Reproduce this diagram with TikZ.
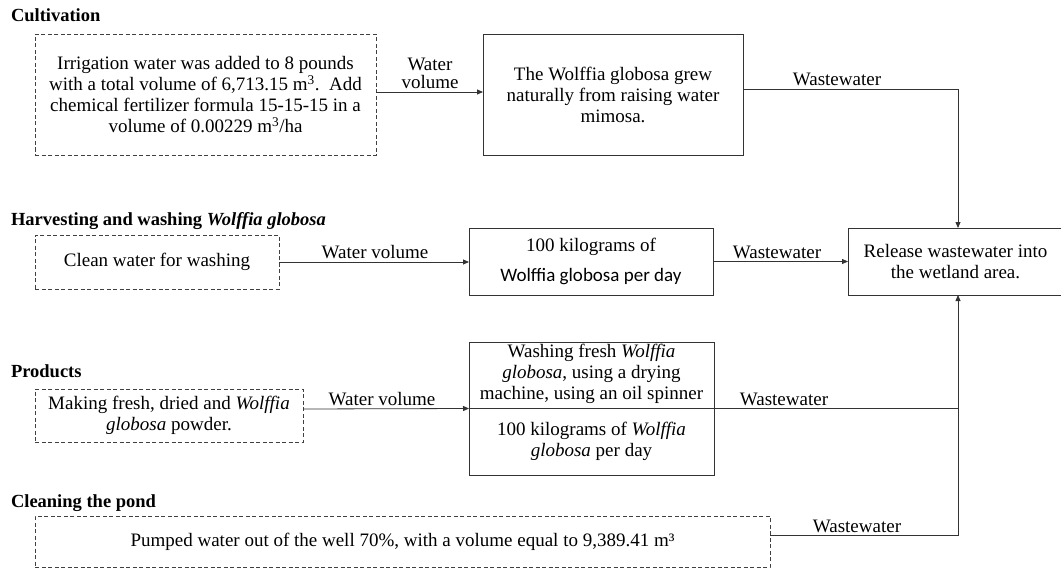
\documentclass[tikz,border=0pt]{standalone}
\usepackage{fontspec}
\setmainfont{Liberation Serif}
\newfontfamily\carlito{Carlito}
\usetikzlibrary{arrows.meta}
\begin{document}
\begin{tikzpicture}[x=1pt,y=-1pt,
  every node/.style={font=\fontsize{19}{21}\selectfont, inner sep=0pt, outer sep=0pt, text=black},
  dbox/.style={draw=black!75, line width=0.8pt, dash pattern=on 4pt off 2.5pt, align=center},
  sbox/.style={draw=black!80, line width=0.8pt, align=center},
  txt/.style={align=center},
  head/.style={anchor=base west, font=\fontsize{18.5}{21}\selectfont\bfseries},
  lbl/.style={anchor=base},
  conn/.style={draw=black!80, line width=0.8pt},
  arr/.style={conn, -{Triangle[length=6pt,width=5pt]}},
]
\useasboundingbox (0,0) rectangle (1061,570);

% headings
\node[head] (h1) at (11,21) {Cultivation};
\node[head] (h2) at (11,225) {Harvesting and washing \textit{Wolffia globosa}};
\node[head] (h3) at (11,377) {Products};
\node[head] (h4) at (11,507) {Cleaning the pond};

% boxes
\node[dbox, minimum width=341pt, minimum height=121pt] (d1) at (205.5,94.5)
  {Irrigation water was added to 8 pounds\\ with a total volume of 6,713.15 m\textsuperscript{3}.\ \ Add\\ chemical fertilizer formula 15-15-15 in a\\ volume of 0.00229 m\textsuperscript{3}/ha};
\node[sbox, minimum width=260pt, minimum height=121pt] (b2) at (613,94.5)
  {The Wolffia globosa grew\\ naturally from raising water\\ mimosa.};
\node[dbox, minimum width=244pt, minimum height=54pt] (d2) at (157,262)
  {Clean water for washing};
\node[sbox, minimum width=244pt, minimum height=67pt] (b3) at (591,261.5)
  {100 kilograms of\\[9pt]{\carlito Wolffia globosa per day}};
\node[sbox, minimum width=215pt, minimum height=67pt] (rel) at (955.5,261.5)
  {Release wastewater into\\ the wetland area.};
\node[dbox, minimum width=268pt, minimum height=53pt] (d3) at (169,415.5)
  {Making fresh, dried and \textit{Wolffia}\\ \textit{globosa} powder.};
\node[sbox, minimum width=245pt, minimum height=133pt] (b4) at (591.5,408.5) {};
\node[txt] (b4t) at (591.5,374) {Washing fresh \textit{Wolffia}\\ \textit{globosa}, using a drying\\ machine, using an oil spinner};
\node[txt] (b4b) at (591.5,441.5) {100 kilograms of \textit{Wolffia}\\ \textit{globosa} per day};
\node[dbox, minimum width=735pt, minimum height=51pt] (d4) at (402.5,541.5)
  {Pumped water out of the well 70\%, with a volume equal to 9,389.41 m³};

% connector corners
\coordinate (c1) at (958,89);
\coordinate (c4) at (958,535);

% connectors
\draw[arr] ([yshift=2.5pt]d1.east) -- ([yshift=2.5pt]d1.east -| b2.west);
\draw[arr] ([yshift=5.5pt]b2.east) -- (c1) -- (c1 |- rel.north);
\draw[arr] (d2.east) -- (d2.east -| b3.west);
\draw[arr] (b3.east) -- (b3.east -| rel.west);
\draw[arr] ([yshift=6.5pt]d3.east) -- (b4.west);
\draw[conn] (b4.west) -- (b4.west -| c1);
\draw[arr] ([yshift=6.5pt]d4.east) -- (c4) -- (c4 |- rel.south);

% labels
\node[lbl] (l1a) at (430,70) {Water};
\node[lbl] (l1b) at (430,88) {volume};
\node[lbl] (l2) at (837,85) {Wastewater};
\node[lbl] (l3) at (375,258) {Water volume};
\node[lbl] (l4) at (777,258) {Wastewater};
\node[lbl] (l5) at (382,405) {Water volume};
\node[lbl] (l6) at (784,405) {Wastewater};
\node[lbl] (l7) at (857,532) {Wastewater};
\end{tikzpicture}
\end{document}
